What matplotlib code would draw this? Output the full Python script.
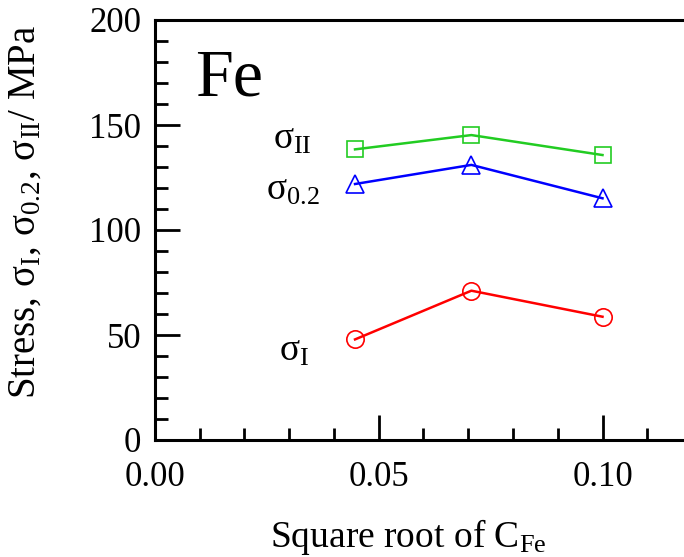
"""Stress vs square root of Fe concentration"""

import numpy as np
import matplotlib.pyplot as plt
from matplotlib.ticker import MultipleLocator

plt.rcParams["font.family"] = ["Liberation Serif", "DejaVu Serif"]
plt.rcParams["mathtext.fontset"] = "custom"
plt.rcParams["mathtext.rm"] = "Liberation Serif"
plt.rcParams["mathtext.it"] = "Liberation Serif:italic"

# sqrt of Fe concentration
sqrt_c_fe = [0.0447, 0.0707, 0.100]

sigma_ii = [138.4, 145.2, 135.7]
sigma_02 = [121.9, 131.0, 115.1]
sigma_i = [47.9, 71.1, 58.7]

W, H = 684, 557
fig = plt.figure(figsize=(W / 100, H / 100), dpi=100)
# axes runs past the right edge of the figure, so no right spine shows
left, right, top, bottom = 155, 692, 20, 440
ax = fig.add_axes([left / W, 1 - bottom / H, (right - left) / W, (bottom - top) / H])

ax.plot(sqrt_c_fe, sigma_ii, "-s", color="#22cc22", mfc="none", ms=12, mew=1.2, lw=1.8)
ax.plot(sqrt_c_fe, sigma_02, "-^", color="#0000ff", mfc="none", ms=13, mew=1.2, lw=1.8)
ax.plot(sqrt_c_fe, sigma_i, "-o", color="#ff0000", mfc="none", ms=12.5, mew=1.2, lw=1.8)

ax.set_xlim(0, 0.12)
ax.set_ylim(0, 200)
ax.xaxis.set_major_locator(MultipleLocator(0.05))
ax.xaxis.set_minor_locator(MultipleLocator(0.01))
ax.yaxis.set_major_locator(MultipleLocator(50))
ax.yaxis.set_minor_locator(MultipleLocator(10))
ax.xaxis.set_major_formatter(lambda v, p: f"{v:.2f}")

for s in ax.spines.values():
    s.set_linewidth(2.2)
ax.tick_params(which="major", direction="in", length=18, width=2, labelsize=25)
ax.tick_params(axis="x", which="major", pad=15)
ax.tick_params(axis="y", which="major", pad=10)
ax.tick_params(which="minor", direction="in", length=9, width=2)

ax.text(0.009, 172, "Fe", fontsize=49, va="center", ha="left")
ax.text(0.0306, 143, "σ$_{\\rm II}$", fontsize=27, ha="center", va="center")
ax.text(0.0308, 119, "σ$_{0.2}$", fontsize=27, ha="center", va="center")
ax.text(0.0312, 42, "σ$_{\\rm I}$", fontsize=27, ha="center", va="center")

fig.text(25 / W, 1 - 212 / H,
         "Stress, σ$_{\\rm I}$, σ$_{0.2}$, σ$_{\\rm II}$/ MPa",
         rotation=90, fontsize=28, ha="center", va="center")
fig.text(408 / W, 1 - 537 / H, "Square root of C$_{\\rm Fe}$",
         fontsize=27, ha="center", va="center")

fig.savefig("out.png", dpi=100)
